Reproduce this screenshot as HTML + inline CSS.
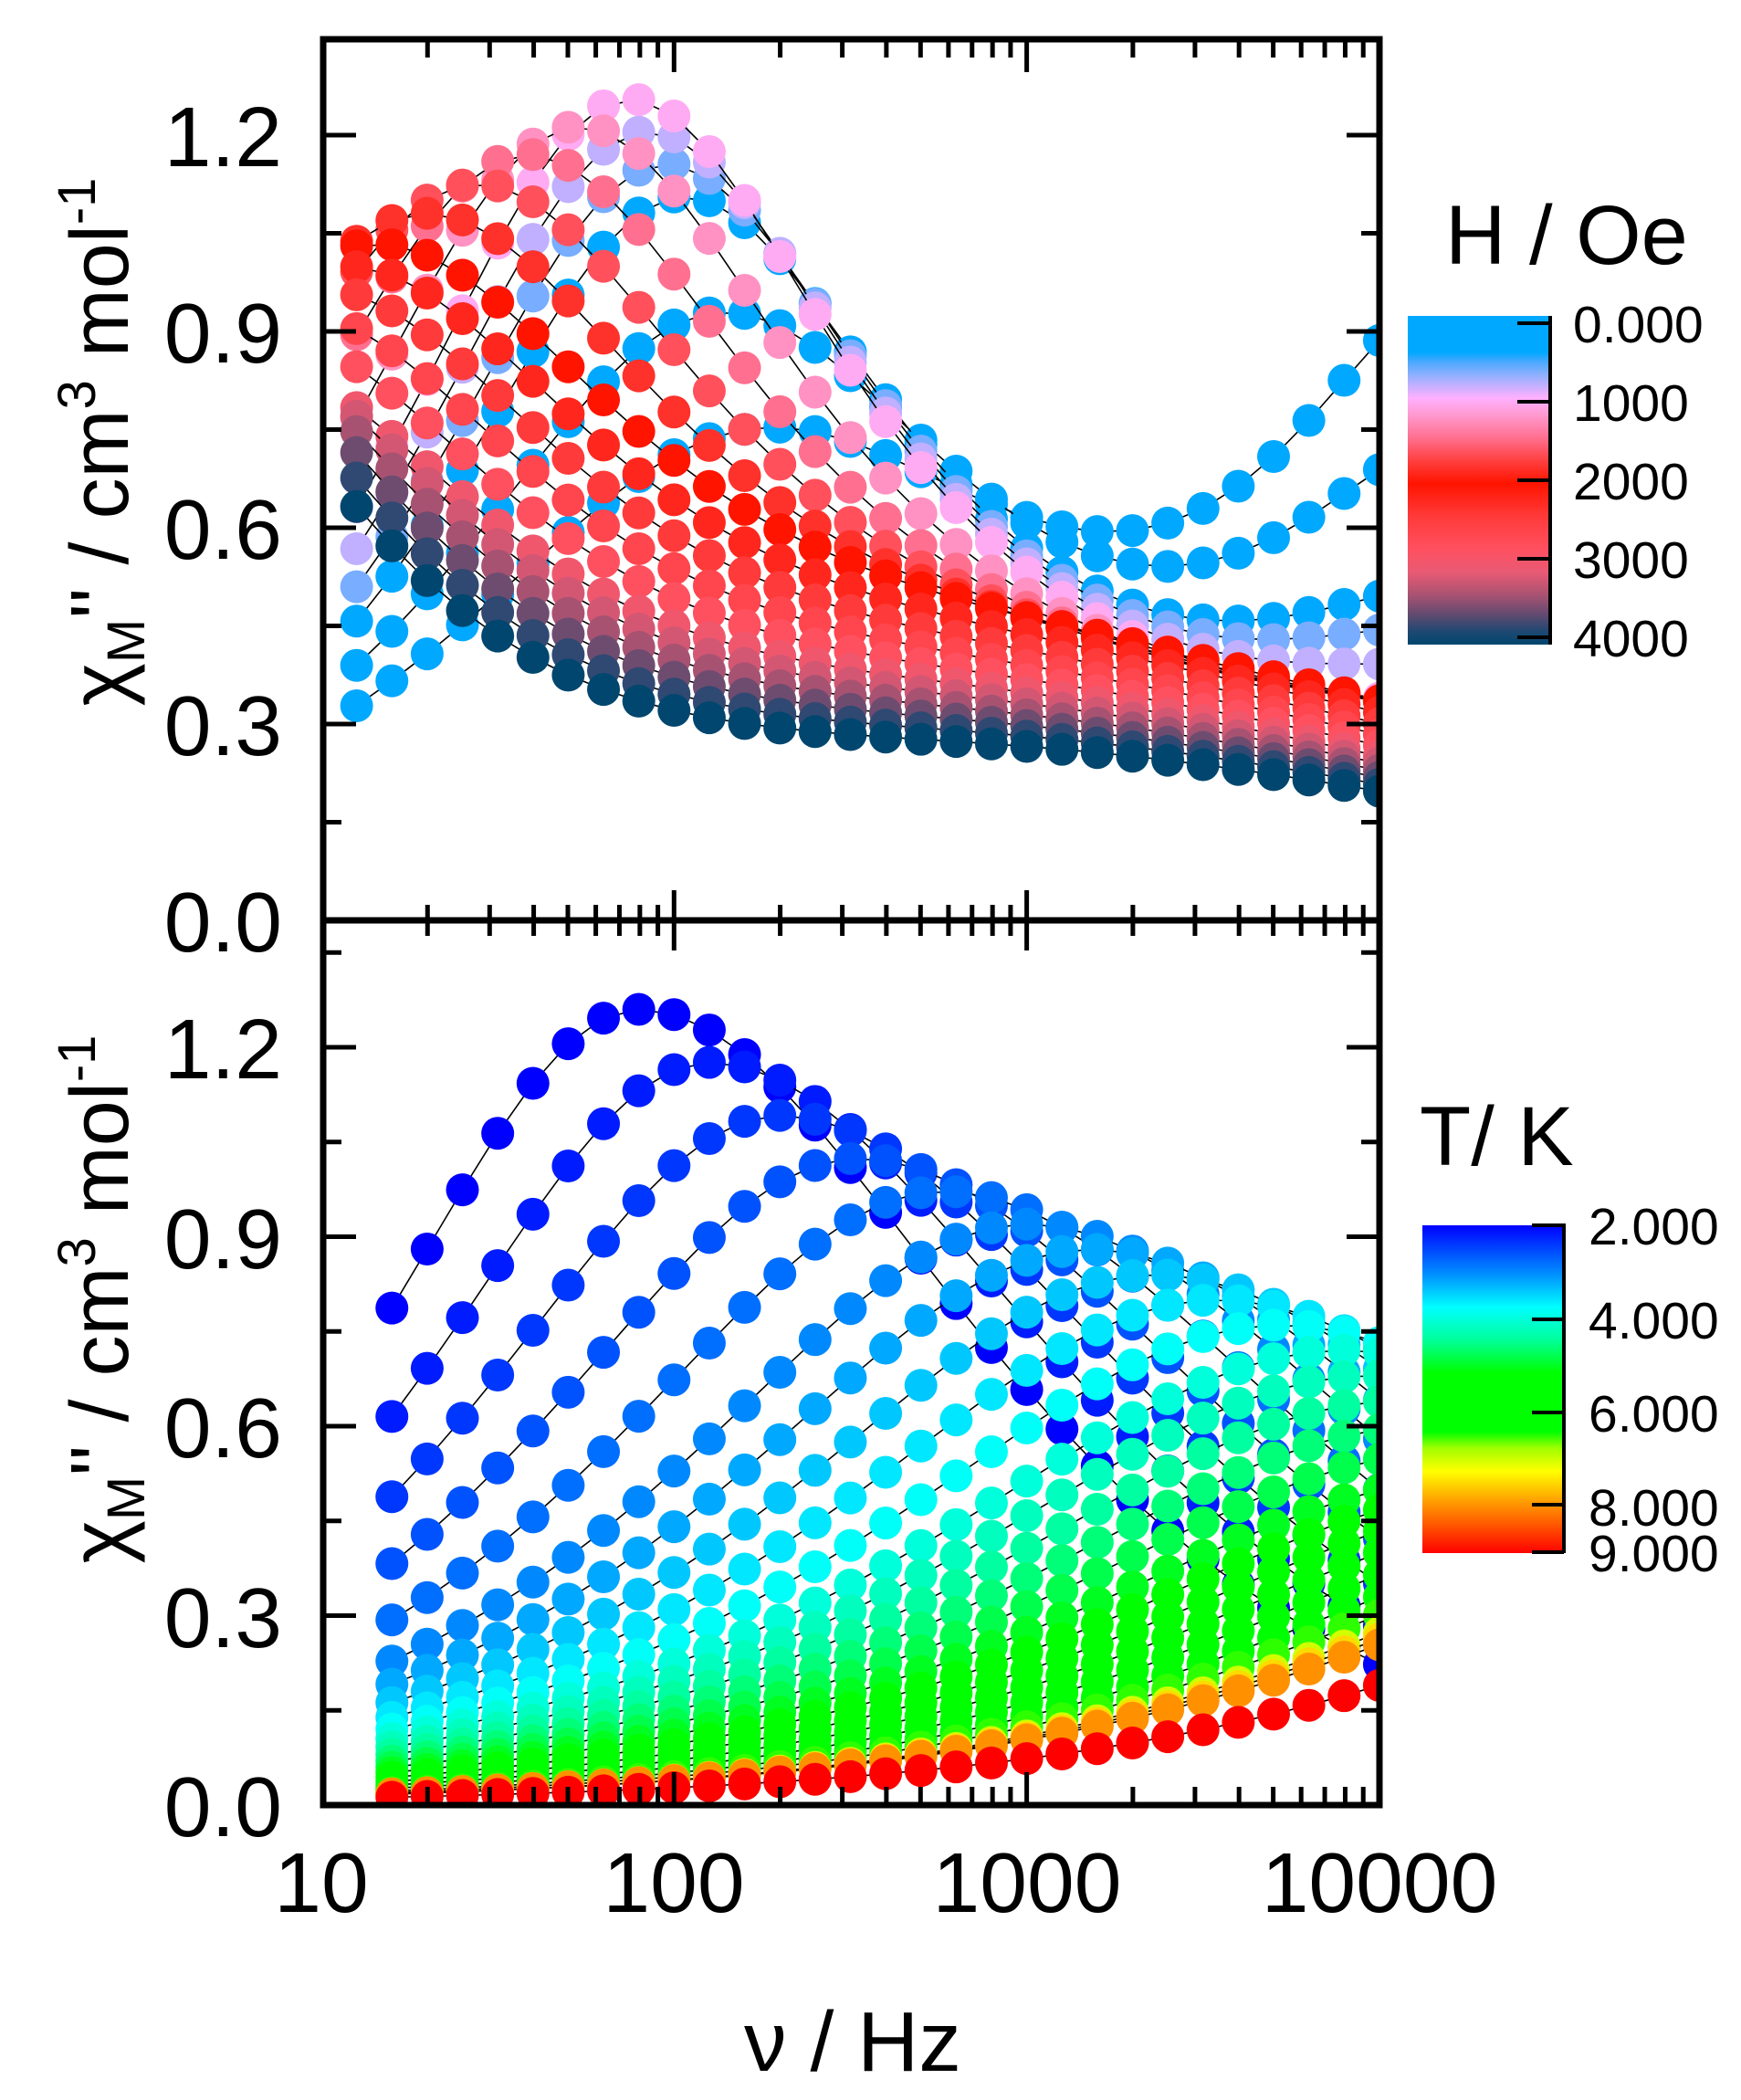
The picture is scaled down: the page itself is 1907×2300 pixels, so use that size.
<!DOCTYPE html>
<html><head><meta charset="utf-8">
<style>
html,body{margin:0;padding:0;background:#fff;}
svg{display:block;}
text{font-family:"Liberation Sans",Arial,sans-serif;fill:#000;}
</style></head>
<body>
<svg id="s" width="1907" height="2300" viewBox="0 0 1907 2300" xmlns="http://www.w3.org/2000/svg">
<defs>
<clipPath id="c1"><rect x="355" y="46" width="1153" height="959"/></clipPath>
<clipPath id="c2"><rect x="355" y="1011" width="1153" height="963"/></clipPath>
<linearGradient id="gH" x1="0" y1="0" x2="0" y2="1">
<stop offset="0" stop-color="#00a8ff"/><stop offset="0.11" stop-color="#00a8ff"/>
<stop offset="0.14" stop-color="#4aa8ff"/><stop offset="0.18" stop-color="#8fb0ff"/>
<stop offset="0.21" stop-color="#c0b0ff"/><stop offset="0.25" stop-color="#ffb0ff"/>
<stop offset="0.30" stop-color="#ff9ad0"/><stop offset="0.37" stop-color="#ff7090"/>
<stop offset="0.44" stop-color="#ff4040"/><stop offset="0.51" stop-color="#ff1400"/>
<stop offset="0.61" stop-color="#ff3a3a"/><stop offset="0.71" stop-color="#ff5060"/>
<stop offset="0.78" stop-color="#e85a74"/><stop offset="0.85" stop-color="#a85272"/>
<stop offset="0.91" stop-color="#604a70"/><stop offset="0.96" stop-color="#1e4872"/>
<stop offset="1" stop-color="#00466e"/></linearGradient>
<linearGradient id="gT" x1="0" y1="0" x2="0" y2="1">
<stop offset="0" stop-color="#0000ff"/><stop offset="0.15" stop-color="#0090ff"/>
<stop offset="0.25" stop-color="#00ffff"/><stop offset="0.35" stop-color="#00ff9a"/>
<stop offset="0.45" stop-color="#00ff00"/><stop offset="0.63" stop-color="#00ff00"/>
<stop offset="0.68" stop-color="#a0ff00"/><stop offset="0.75" stop-color="#ffff00"/>
<stop offset="0.84" stop-color="#ffa000"/><stop offset="1" stop-color="#ff0000"/></linearGradient>
</defs>
<g id="data1" clip-path="url(#c1)"></g>
<g id="data2" clip-path="url(#c2)"></g>
<g id="axes" stroke="#000" fill="none"></g>
<g font-size="93" text-anchor="end">
<text x="309" y="182">1.2</text><text x="309" y="397">0.9</text><text x="309" y="612">0.6</text><text x="309" y="827">0.3</text><text x="309" y="1042">0.0</text>
<text x="309" y="1181">1.2</text><text x="309" y="1389">0.9</text><text x="309" y="1596">0.6</text><text x="309" y="1804">0.3</text><text x="309" y="2011">0.0</text>
</g>
<g font-size="93" text-anchor="middle">
<text x="352" y="2094">10</text><text x="738" y="2094">100</text><text x="1125" y="2094">1000</text><text x="1511" y="2094">10000</text>
<text x="934" y="2268">ν / Hz</text>
</g>
<text transform="translate(140,484) rotate(-90)" font-size="90" text-anchor="middle">χ<tspan font-size="58" dy="18">M</tspan><tspan dy="-18">'' / cm</tspan><tspan font-size="58" dy="-36">3</tspan><tspan dy="36"> mol</tspan><tspan font-size="58" dy="-36">-1</tspan></text>
<text transform="translate(140,1423) rotate(-90)" font-size="90" text-anchor="middle">χ<tspan font-size="58" dy="18">M</tspan><tspan dy="-18">'' / cm</tspan><tspan font-size="58" dy="-36">3</tspan><tspan dy="36"> mol</tspan><tspan font-size="58" dy="-36">-1</tspan></text>
<text x="1583" y="289" font-size="92">H / Oe</text>
<rect x="1542" y="346" width="156" height="360" fill="url(#gH)"/>
<g stroke="#000" stroke-width="4"><line x1="1698" y1="346" x2="1698" y2="706"/>
<line x1="1662" y1="354" x2="1698" y2="354"/><line x1="1662" y1="440" x2="1698" y2="440"/><line x1="1662" y1="526" x2="1698" y2="526"/><line x1="1662" y1="612" x2="1698" y2="612"/><line x1="1662" y1="698" x2="1698" y2="698"/></g>
<g font-size="57"><text x="1723" y="375">0.000</text><text x="1723" y="461">1000</text><text x="1723" y="547">2000</text><text x="1723" y="633">3000</text><text x="1723" y="719">4000</text></g>
<text x="1555" y="1276" font-size="92">T/ K</text>
<rect x="1558" y="1342" width="155" height="359" fill="url(#gT)"/>
<g stroke="#000" stroke-width="4"><line x1="1713" y1="1340" x2="1713" y2="1701"/>
<line x1="1678" y1="1342" x2="1713" y2="1342"/><line x1="1678" y1="1445" x2="1713" y2="1445"/><line x1="1678" y1="1547" x2="1713" y2="1547"/><line x1="1678" y1="1648" x2="1713" y2="1648"/><line x1="1678" y1="1700" x2="1713" y2="1700"/></g>
<g font-size="57"><text x="1740" y="1363">2.000</text><text x="1740" y="1466">4.000</text><text x="1740" y="1568">6.000</text><text x="1740" y="1671">8.000</text><text x="1740" y="1721">9.000</text></g>
</svg>
<script>
(function(){
var NS="http://www.w3.org/2000/svg";
function el(p,t,a){var e=document.createElementNS(NS,t);for(var k in a)e.setAttribute(k,a[k]);p.appendChild(e);return e;}
function interp(n,v,t){if(t<=n[0])return v[0];for(var i=1;i<n.length;i++){if(t<=n[i]){var f=(t-n[i-1])/(n[i]-n[i-1]);return v[i-1]+f*(v[i]-v[i-1]);}}return v[v.length-1];}
function hex(c){return [parseInt(c.substr(1,2),16),parseInt(c.substr(3,2),16),parseInt(c.substr(5,2),16)];}
function cmap(stops,t){for(var i=1;i<stops.length;i++){if(t<=stops[i][0]){var a=hex(stops[i-1][1]),b=hex(stops[i][1]);var f=(t-stops[i-1][0])/(stops[i][0]-stops[i-1][0]);return "rgb("+[0,1,2].map(function(k){return Math.round(a[k]+f*(b[k]-a[k]));}).join(",")+")";}}return stops[stops.length-1][1];}
function g(lf,lp,w){return 1/Math.cosh((lf-lp)*2.302585*w);}
function X(lf){return 352+(lf-1)*386.3;}
var d1=document.getElementById("data1"),d2=document.getElementById("data2");
var Hst=[[0,'#00a8ff'],[400,'#00a8ff'],[500,'#4aa8ff'],[650,'#8fb0ff'],[800,'#c0b0ff'],[950,'#ffb0ff'],[1150,'#ff9ad0'],[1400,'#ff7090'],[1700,'#ff4040'],[2000,'#ff1400'],[2400,'#ff3a3a'],[2800,'#ff5060'],[3100,'#e85a74'],[3400,'#a85272'],[3650,'#604a70'],[3850,'#1e4872'],[4000,'#00466e']];
var hn=[0,0.05,0.1,0.25,0.5,0.75,1];
var As=[0.6,0.75,0.9,1.05,0.85,0.75,1.0],Lp=[2.2,2.1,2.0,1.85,1.1,0.7,0.3],Ws=[0.6,0.7,0.8,0.8,0.65,0.65,0.7],Af=[0.8,0.55,0.3,0.1,0.03,0,0],Bb=[0.15,0.2,0.25,0.27,0.36,0.3,0.24];
for(var H=0;H<=4000;H+=200){var h=H/4000;var a=interp(hn,As,h),lp=interp(hn,Lp,h),w=interp(hn,Ws,h),af=interp(hn,Af,h),b=interp(hn,Bb,h);
 var pts=[];for(var i=0;i<30;i++){var lf=1.1+i*0.1;var v=a*g(lf,lp,w)+af*g(lf,4.3,0.9)+b*g(lf,3.0,0.3);pts.push([X(lf),1008-v*716.7]);}
 var col=cmap(Hst,H);
 el(d1,"polyline",{points:pts.map(function(p){return p.join(",");}).join(" "),fill:"none",stroke:"#000","stroke-width":"1.6"});
 pts.forEach(function(p){el(d1,"circle",{cx:p[0],cy:p[1],r:18,fill:col});});}
var Tst=[[2,'#0000ff'],[3.05,'#0090ff'],[3.75,'#00ffff'],[4.45,'#00ff9a'],[5.15,'#00ff00'],[6.4,'#00ff00'],[6.75,'#a0ff00'],[7.25,'#ffff00'],[7.9,'#ffa000'],[9,'#ff0000']];
var tn=[2,2.5,3,4,5,6,7,8,9];
var TA=[1.26,1.05,0.92,0.72,0.52,0.42,0.4,0.42,0.44],TL=[1.9,2.4,3.0,3.9,4.3,4.7,4.9,5.1,5.5],TW=[0.65,0.55,0.5,0.42,0.42,0.45,0.45,0.43,0.43],TWH=[0.5,0.45,0.45,0.42,0.42,0.45,0.45,0.43,0.43];
var Ts=[];for(var k=0;k<=20;k++)Ts.push(2+0.2*k);Ts=Ts.concat([6.5,7,7.5,8,9]);
Ts.forEach(function(T){var a=interp(tn,TA,T),lp=interp(tn,TL,T),w=interp(tn,TW,T),wh=interp(tn,TWH,T);
 var pts=[];for(var i=0;i<29;i++){var lf=1.2+i*0.1;var v=a*g(lf,lp,lf>lp?wh:w);pts.push([X(lf),1977-v*691.7]);}
 var col=cmap(Tst,T);
 el(d2,"polyline",{points:pts.map(function(p){return p.join(",");}).join(" "),fill:"none",stroke:"#000","stroke-width":"1.6"});
 pts.forEach(function(p){el(d2,"circle",{cx:p[0],cy:p[1],r:18,fill:col});});});
var ax=document.getElementById("axes");
el(ax,"rect",{x:354,y:43,width:1157,height:1934,"stroke-width":"7"});
el(ax,"line",{x1:352,y1:1008,x2:1513,y2:1008,"stroke-width":"7"});
function tick(x1,y1,x2,y2,w){el(ax,"line",{x1:x1,y1:y1,x2:x2,y2:y2,"stroke-width":w||5});}
[[1008,716.7,43],[1977,691.7,1008]].forEach(function(P){for(var j=0;j<=9;j++){var v=j*0.15;var y=P[0]-v*P[1];if(y<P[2]+5)continue;var L=(j%2==0)?33:17;tick(357,y,357+L,y);tick(1508,y,1508-L,y);}});
for(var dec=1;dec<4;dec++){for(var m=1;m<10;m++){var x=X(dec+Math.log10(m));var L=m==1?33:17;if(m==1&&dec==1)continue;
 [46,1008,1974].forEach(function(y){if(y==46)tick(x,y,x,y+L);else if(y==1974)tick(x,y,x,y-L);else{tick(x,y-L,x,y+L);}});}}
})();
</script>
</body></html>
